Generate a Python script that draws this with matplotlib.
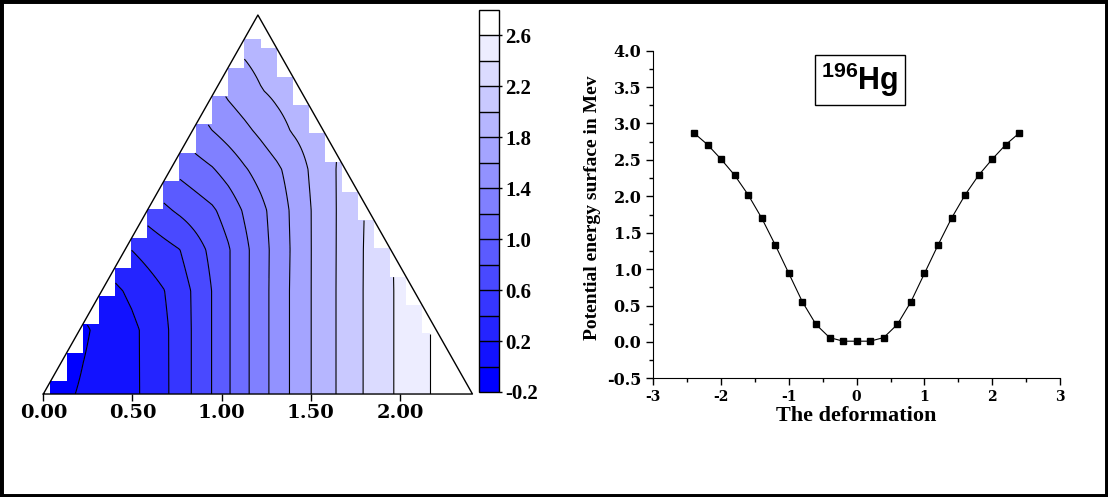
import numpy as np
import matplotlib
matplotlib.use("Agg")
import matplotlib.pyplot as plt
from matplotlib.colors import LinearSegmentedColormap
from matplotlib.patches import Rectangle
from matplotlib.ticker import MultipleLocator, FormatStrFormatter

plt.rcParams["axes.unicode_minus"] = False
plt.rcParams["mathtext.fontset"] = "custom"
plt.rcParams["mathtext.rm"] = "Liberation Sans"
plt.rcParams["mathtext.bf"] = "Liberation Sans:bold"

# ---- left panel: potential energy surface on the triangle ----
fill_levels = np.round(np.arange(-0.2, 2.81, 0.2), 1)   # colour band edges
line_levels = fill_levels[1:-1]                          # drawn contour lines
cbar_ticks = [-0.2, 0.2, 0.6, 1.0, 1.4, 1.8, 2.2, 2.6]
base_ticks = [0.0, 0.5, 1.0, 1.5, 2.0]
base_labels = ["0.00", "0.50", "1.00", "1.50", "2.00"]

# heights of the rows where the contour crossings were read
row_y = [0.0, 0.36, 0.58, 0.81, 1.03, 1.26, 1.48, 1.70, 1.93]
# x position where each level (-0.2 ... 2.8) crosses that row
cross_x = [
    [-0.070, 0.168, 0.561, 0.707, 0.832, 0.944, 1.047, 1.154, 1.264, 1.380, 1.501, 1.640, 1.791, 1.963, 2.165, 2.393],
    [0.040, 0.256, 0.553, 0.707, 0.832, 0.944, 1.047, 1.154, 1.264, 1.380, 1.501, 1.640, 1.791, 1.963, 2.165, 2.393],
    [-0.130, 0.094, 0.456, 0.682, 0.832, 0.944, 1.047, 1.154, 1.264, 1.380, 1.501, 1.640, 1.791, 1.963, 2.165, 2.393],
    [-0.355, -0.020, 0.262, 0.492, 0.767, 0.912, 1.050, 1.154, 1.266, 1.384, 1.501, 1.641, 1.793, 1.961, 2.141, 2.365],
    [-0.467, -0.187, 0.066, 0.318, 0.486, 0.722, 0.985, 1.111, 1.257, 1.378, 1.501, 1.641, 1.798, 1.972, 2.169, 2.393],
    [-0.579, -0.243, -0.019, 0.206, 0.374, 0.542, 0.694, 0.968, 1.145, 1.344, 1.484, 1.641, 1.804, 1.984, 2.180, 2.393],
    [-0.692, -0.467, -0.243, 0.010, 0.178, 0.346, 0.514, 0.699, 0.946, 1.176, 1.378, 1.664, 1.832, 2.000, 2.197, 2.393],
    [-0.804, -0.579, -0.355, -0.131, 0.094, 0.290, 0.486, 0.682, 0.851, 0.991, 1.232, 1.608, 1.804, 2.000, 2.197, 2.393],
    [-0.916, -0.692, -0.467, -0.243, -0.019, 0.206, 0.402, 0.598, 0.767, 0.907, 1.080, 1.467, 1.776, 2.000, 2.197, 2.393],
]

# triangle geometry and data grid
tri_side = 2.407
tri_apex = 1.2035
tri_height = 2.126
grid_x = 0.043 + 0.0904 * np.arange(26)
grid_y = np.linspace(0, tri_height, 215)

# ---- right panel: PES along the deformation ----
deform = np.round(np.arange(-2.4, 2.41, 0.2), 1)
energy = [2.87, 2.71, 2.51, 2.29, 2.02, 1.70, 1.33, 0.94, 0.55, 0.24, 0.06, 0.01, 0.01,
          0.01, 0.06, 0.24, 0.55, 0.94, 1.33, 1.70, 2.02, 2.29, 2.51, 2.71, 2.87]

# build field from the read crossings
row_vals = np.array([np.interp(grid_x, cx, fill_levels) for cx in cross_x])
Z = np.empty((len(grid_y), len(grid_x)))
for k in range(len(grid_x)):
    Z[:, k] = np.interp(grid_y, row_y, row_vals[:, k])
X, Y = np.meshgrid(grid_x, grid_y)
h_left = X * tri_height / tri_apex
h_right = (tri_side - X) * tri_height / (tri_side - tri_apex)
Zm = np.ma.masked_where((Y > h_left) | (Y > h_right), Z)

bw = LinearSegmentedColormap.from_list("bw", ["#0000ff", "#ffffff"])
band_colors = [bw(i / (len(fill_levels) - 2)) for i in range(len(fill_levels) - 1)]

fig = plt.figure(figsize=(11.08, 4.97), dpi=100)

ax = fig.add_axes([0.0391, 0.2072, 0.3894, 0.7712])
cf = ax.contourf(X, Y, Zm, levels=fill_levels, colors=band_colors, corner_mask=False)
ax.contour(X, Y, Zm, levels=line_levels, colors="black", linewidths=0.8, corner_mask=False)
ax.plot([0, tri_side, tri_apex, 0], [0, 0, tri_height, 0], color="black", lw=1.0, clip_on=False)
ax.set_xlim(0, 2.42)
ax.set_ylim(0, 2.15)
for s in ax.spines.values():
    s.set_visible(False)
ax.set_xticks(base_ticks)
ax.set_xticklabels(base_labels, fontfamily="DejaVu Serif", fontweight="bold", fontsize=14)
ax.set_yticks([])
ax.tick_params(axis="x", direction="out", length=5, width=1, pad=2)

cax = fig.add_axes([0.4326, 0.2113, 0.0181, 0.7686])
cbar = fig.colorbar(cf, cax=cax, ticks=cbar_ticks, drawedges=True)
cbar.outline.set_linewidth(1.0)
cbar.dividers.set_linewidth(1.0)
cbar.ax.yaxis.set_major_formatter(FormatStrFormatter("%.1f"))
cbar.ax.tick_params(length=2, width=1, pad=2)
for t in cbar.ax.get_yticklabels():
    t.set_fontfamily("Liberation Serif")
    t.set_fontweight("bold")
    t.set_fontsize(15)

ax2 = fig.add_axes([0.5896, 0.2388, 0.3671, 0.6592])
ax2.plot(deform, energy, color="black", lw=0.8, marker="s", ms=4.3)
ax2.set_xlim(-3, 3)
ax2.set_ylim(-0.5, 4.0)
ax2.spines["top"].set_visible(False)
ax2.spines["right"].set_visible(False)
ax2.xaxis.set_major_locator(MultipleLocator(1))
ax2.xaxis.set_minor_locator(MultipleLocator(0.5))
ax2.yaxis.set_major_locator(MultipleLocator(0.5))
ax2.yaxis.set_minor_locator(MultipleLocator(0.25))
ax2.yaxis.set_major_formatter(FormatStrFormatter("%.1f"))
ax2.tick_params(which="major", direction="out", length=5, width=1)
ax2.tick_params(which="minor", direction="out", length=3, width=1)
for t in ax2.get_xticklabels():
    t.set_fontfamily("DejaVu Serif")
    t.set_fontweight("bold")
    t.set_fontsize(10)
for t in ax2.get_yticklabels():
    t.set_fontfamily("DejaVu Serif")
    t.set_fontweight("bold")
    t.set_fontsize(11.5)
ax2.set_xlabel("The deformation", fontfamily="Liberation Serif", fontweight="bold", fontsize=16)
ax2.set_ylabel("Potential energy surface in Mev", fontfamily="Liberation Serif", fontweight="bold", fontsize=14)
ax2.xaxis.set_label_coords(0.5, -0.085)
ax2.yaxis.set_label_coords(-0.128, 0.52)
ax2.text(0.05, 3.6, r"$^{\mathbf{196}}\mathbf{Hg}$", ha="center", va="center", fontsize=22,
         bbox=dict(boxstyle="square,pad=0.2", fc="white", ec="black", lw=1))

fig.patches.append(Rectangle((0, 0), 1, 1, transform=fig.transFigure, fill=False,
                             ec="black", lw=5))

fig.savefig("out.png", dpi=100)
